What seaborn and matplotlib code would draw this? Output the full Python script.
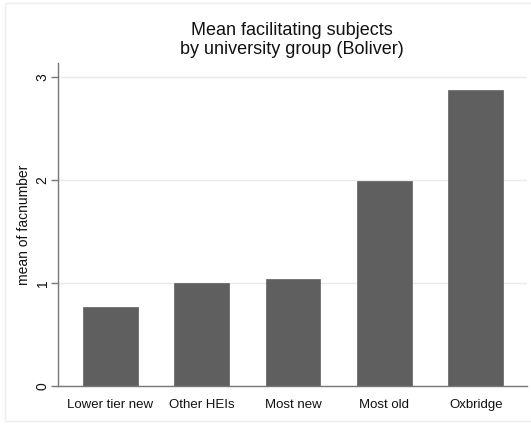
import numpy as np
import pandas as pd
import seaborn as sns
import matplotlib
matplotlib.use("Agg")
from matplotlib import pyplot as plt
from matplotlib.patches import Rectangle

# university groups and their mean number of facilitating subjects
groups = ["Lower tier new", "Other HEIs", "Most new", "Most old", "Oxbridge"]
means = [0.77, 1.00, 1.04, 1.99, 2.88]
yticks = [0, 1, 2, 3]

df = pd.DataFrame({"group": groups, "facnumber": means})

sns.set_style("white")
plt.rcParams['font.family'] = ['Liberation Sans', 'DejaVu Sans']
plt.rcParams['text.color'] = "#111111"
plt.rcParams['axes.labelcolor'] = "#111111"
plt.rcParams['xtick.color'] = "#111111"
plt.rcParams['ytick.color'] = "#111111"

fig = plt.figure(figsize=(5.31, 4.24), dpi=100)
fig.patches.append(Rectangle((5 / 531, 3 / 424), 1.0, 418 / 424, transform=fig.transFigure,
                             fill=False, edgecolor="#eeeeee", linewidth=1))
ax = fig.add_axes([58 / 531, 38 / 424, 469 / 531, 323 / 424])

sns.barplot(data=df, x="group", y="facnumber", order=groups, color="#5f5f5f",
            saturation=1, width=0.6, edgecolor="#5f5f5f", linewidth=0.5, ax=ax)

ax.set_xlim(-0.57, 4.56)
ax.set_ylim(0, 3.14)
ax.set_yticks(yticks)
ax.set_yticklabels([str(t) for t in yticks], rotation=90, va="center")
ax.yaxis.grid(True, color="#eaeaea", linewidth=1)
ax.set_axisbelow(True)

for s in ["top", "right"]:
    ax.spines[s].set_visible(False)
for s in ["left", "bottom"]:
    ax.spines[s].set_color("#777777")
    ax.spines[s].set_linewidth(1)

ax.tick_params(axis="y", left=True, length=5, width=1, color="#777777", labelsize=10, pad=1)
ax.tick_params(axis="x", bottom=False, labelsize=9.5, pad=6)
ax.set_xlabel("")
ax.set_ylabel("mean of facnumber", fontsize=10, labelpad=3)

fig.text(292 / 531, 1 - 40 / 424, "Mean facilitating subjects\nby university group (Boliver)",
         ha="center", va="center", fontsize=13, linespacing=1.1)

fig.savefig("out.png", dpi=100, facecolor="white")
